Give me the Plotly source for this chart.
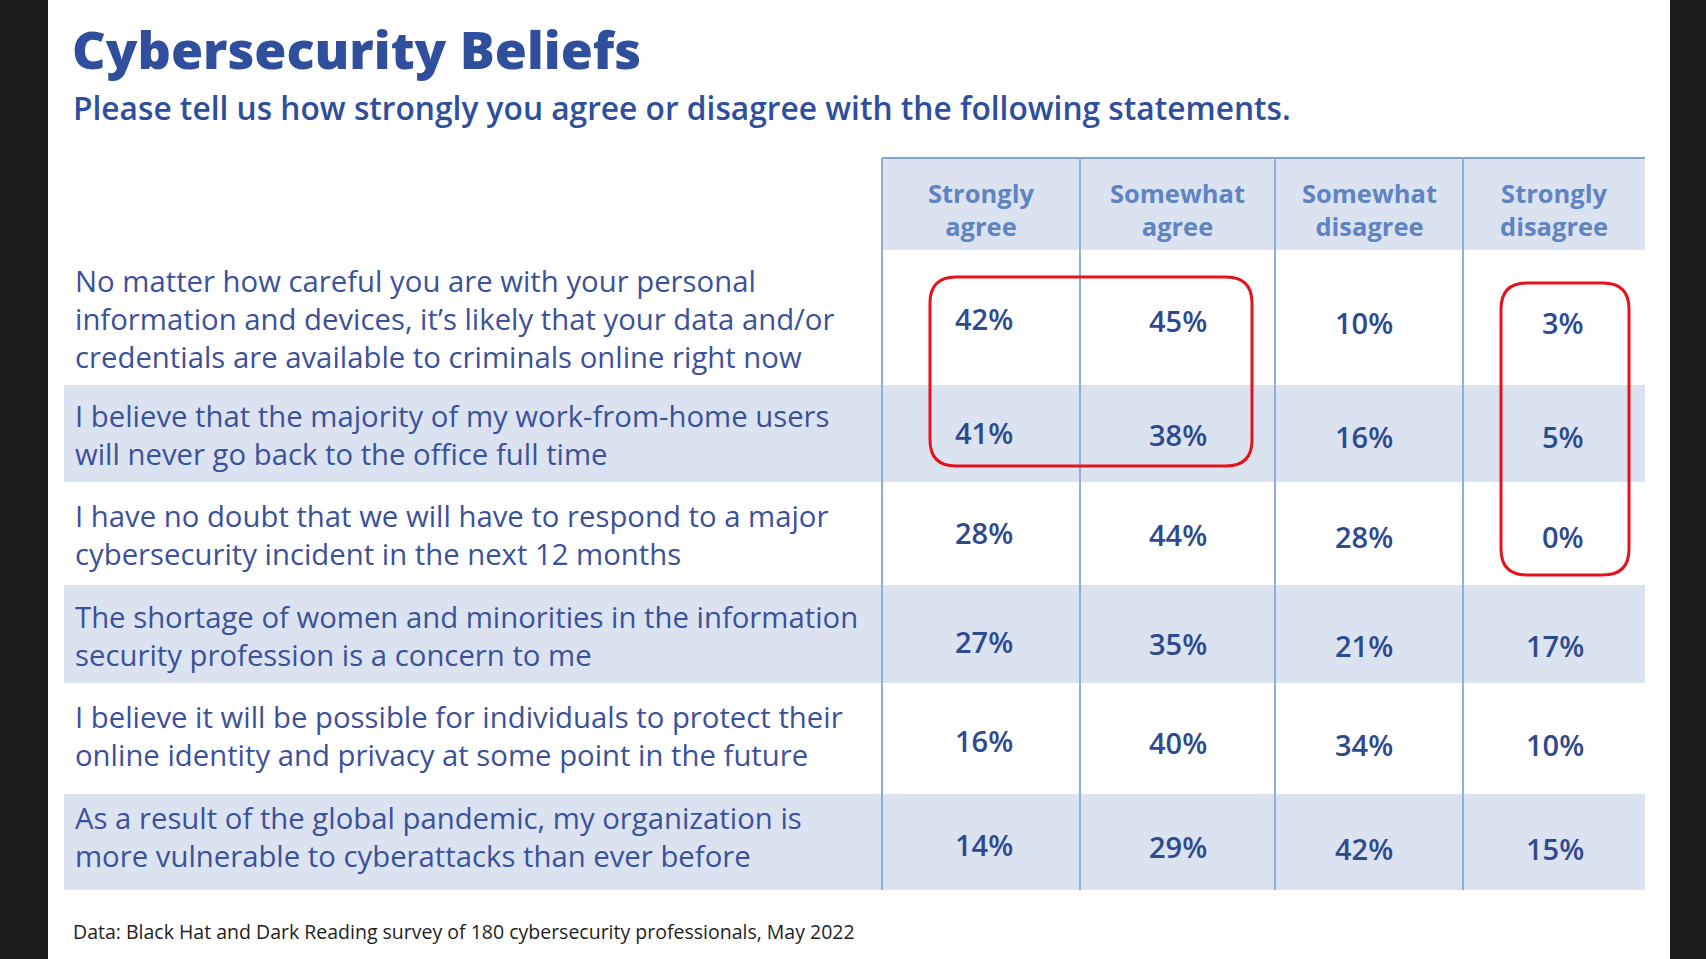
import plotly.graph_objects as go

# ---------------- data ----------------
title_text = "Cybersecurity Beliefs"
subtitle_text = "Please tell us how strongly you agree or disagree with the following statements."
source_text = "Data: Black Hat and Dark Reading survey of 180 cybersecurity professionals, May 2022"

response_labels = [
    ["Strongly", "agree"],
    ["Somewhat", "agree"],
    ["Somewhat", "disagree"],
    ["Strongly", "disagree"],
]

statements = [
    ["No matter how careful you are with your personal",
     "information and devices, it\u2019s likely that your data and/or",
     "credentials are available to criminals online right now"],
    ["I believe that the majority of my work-from-home users",
     "will never go back to the office full time"],
    ["I have no doubt that we will have to respond to a major",
     "cybersecurity incident in the next 12 months"],
    ["The shortage of women and minorities in the information",
     "security profession is a concern to me"],
    ["I believe it will be possible for individuals to protect their",
     "online identity and privacy at some point in the future"],
    ["As a result of the global pandemic, my organization is",
     "more vulnerable to cyberattacks than ever before"],
]

strongly_agree = [42, 41, 28, 27, 16, 14]
somewhat_agree = [45, 38, 44, 35, 40, 29]
somewhat_disagree = [10, 16, 28, 21, 34, 42]
strongly_disagree = [3, 5, 0, 17, 10, 15]

# highlighted cell groups: (first row, last row, first col, last col)
highlights = [(0, 1, 0, 1), (0, 2, 3, 3)]

# ---------------- layout constants ----------------
W, H = 1706, 959
PANEL_X = (48, 1670)
COL_EDGES = [882, 1080, 1275, 1463, 1645]
TABLE_LEFT = 64
HEADER_TOP, HEADER_BOTTOM = 158, 250
HEADER_CENTER = 209
ROW_EDGES = [250, 385, 482, 585, 683, 794, 890]
LABEL_CENTERS = [319, 435, 535, 636, 736, 837]
VALUE_CENTERS = [320, 434, 534, 643, 742, 846]
VALUE_DY = [-2, 0, 2, 2]
VALUE_RIGHT = [1015, 1209, 1395, 1586]
LABEL_X = 73
# highlight box padding: (left, right, top, bottom) relative to value anchors
HIGHLIGHT_PAD = [(85, 43, 43, 32), (85, 43, 37, 41)]
HIGHLIGHT_RADIUS = 26

DARK_BG = "#1d1d1d"
TITLE_COLOR = "#2f4e9c"
LABEL_COLOR = "#3b519a"
VALUE_COLOR = "#2e4a8f"
HEADER_COLOR = "#5f83c3"
SHADE = "#dce3f0"
GRID = "#8db0d8"
RED = "#e3121b"
FONT = "Open Sans"

values = [strongly_agree, somewhat_agree, somewhat_disagree, strongly_disagree]

fig = go.Figure()
# invisible trace to establish the axes
fig.add_trace(go.Scatter(x=[0, W], y=[0, H], mode="markers",
                         marker=dict(opacity=0), hoverinfo="skip", showlegend=False))

shapes = []
# white panel
shapes.append(dict(type="rect", xref="x", yref="y", x0=PANEL_X[0], x1=PANEL_X[1],
                   y0=0, y1=H, fillcolor="white", line=dict(width=0), layer="below"))
# header band
shapes.append(dict(type="rect", xref="x", yref="y", x0=COL_EDGES[0], x1=COL_EDGES[-1],
                   y0=HEADER_TOP, y1=HEADER_BOTTOM, fillcolor=SHADE, line=dict(width=0), layer="below"))
# shaded rows (every second)
for i in range(len(statements)):
    if i % 2 == 1:
        shapes.append(dict(type="rect", xref="x", yref="y", x0=TABLE_LEFT, x1=COL_EDGES[-1],
                           y0=ROW_EDGES[i], y1=ROW_EDGES[i + 1], fillcolor=SHADE,
                           line=dict(width=0), layer="below"))
# top border
shapes.append(dict(type="line", xref="x", yref="y", x0=COL_EDGES[0], x1=COL_EDGES[-1],
                   y0=HEADER_TOP, y1=HEADER_TOP, line=dict(color="#7ea4d3", width=2)))
# vertical separators
for xe in COL_EDGES[:-1]:
    shapes.append(dict(type="line", xref="x", yref="y", x0=xe, x1=xe,
                       y0=HEADER_TOP, y1=ROW_EDGES[-1], line=dict(color=GRID, width=2)))


def rounded_rect(x0, y0, x1, y1, r):
    return (f"M{x0 + r},{y0} L{x1 - r},{y0} Q{x1},{y0} {x1},{y0 + r} "
            f"L{x1},{y1 - r} Q{x1},{y1} {x1 - r},{y1} L{x0 + r},{y1} "
            f"Q{x0},{y1} {x0},{y1 - r} L{x0},{y0 + r} Q{x0},{y0} {x0 + r},{y0} Z")


for (r0, r1, c0, c1), (pl, pr, pt, pb) in zip(highlights, HIGHLIGHT_PAD):
    x0 = VALUE_RIGHT[c0] - pl
    x1 = VALUE_RIGHT[c1] + pr
    y0 = VALUE_CENTERS[r0] - pt
    y1 = VALUE_CENTERS[r1] + pb
    shapes.append(dict(type="path", xref="x", yref="y",
                       path=rounded_rect(x0, y0, x1, y1, HIGHLIGHT_RADIUS),
                       line=dict(color=RED, width=3), fillcolor="rgba(0,0,0,0)"))

annotations = []
# title & subtitle
annotations.append(dict(x=70, y=48, xref="x", yref="y", text=title_text, showarrow=False,
                        xanchor="left", yanchor="middle",
                        font=dict(family=FONT, size=52, color=TITLE_COLOR, weight=800)))
annotations.append(dict(x=71, y=107, xref="x", yref="y", text=subtitle_text, showarrow=False,
                        xanchor="left", yanchor="middle",
                        font=dict(family=FONT, size=31.7, color=TITLE_COLOR, weight=600)))
# column headers
for c, lines in enumerate(response_labels):
    cx = (COL_EDGES[c] + COL_EDGES[c + 1]) / 2
    annotations.append(dict(x=cx, y=HEADER_CENTER, xref="x", yref="y", text="<br>".join(lines),
                            showarrow=False, xanchor="center", yanchor="middle", align="center",
                            font=dict(family=FONT, size=25.5, color=HEADER_COLOR, weight=700)))
# statements
for i, lines in enumerate(statements):
    annotations.append(dict(x=LABEL_X, y=LABEL_CENTERS[i], xref="x", yref="y",
                            text="<br>".join(lines), showarrow=False, align="left",
                            xanchor="left", yanchor="middle",
                            font=dict(family=FONT, size=29.3, color=LABEL_COLOR)))
# values
for c, col in enumerate(values):
    for i, v in enumerate(col):
        annotations.append(dict(x=VALUE_RIGHT[c], y=VALUE_CENTERS[i] + VALUE_DY[c], xref="x", yref="y",
                                text=f"{v}%", showarrow=False, xanchor="right", yanchor="middle",
                                font=dict(family=FONT, size=29, color=VALUE_COLOR, weight=600)))
# source
annotations.append(dict(x=71, y=931, xref="x", yref="y", text=source_text, showarrow=False,
                        xanchor="left", yanchor="middle",
                        font=dict(family=FONT, size=19.5, color="#1e1e1e")))

fig.update_layout(
    width=W, height=H,
    margin=dict(l=0, r=0, t=0, b=0, pad=0),
    paper_bgcolor=DARK_BG, plot_bgcolor="rgba(0,0,0,0)",
    xaxis=dict(range=[0, W], visible=False, fixedrange=True),
    yaxis=dict(range=[H, 0], visible=False, fixedrange=True),
    shapes=shapes, annotations=annotations, showlegend=False,
)

fig.write_html("out.html", config={"displayModeBar": False},
               post_script="document.body.style.margin='0';document.body.style.overflow='hidden';")
